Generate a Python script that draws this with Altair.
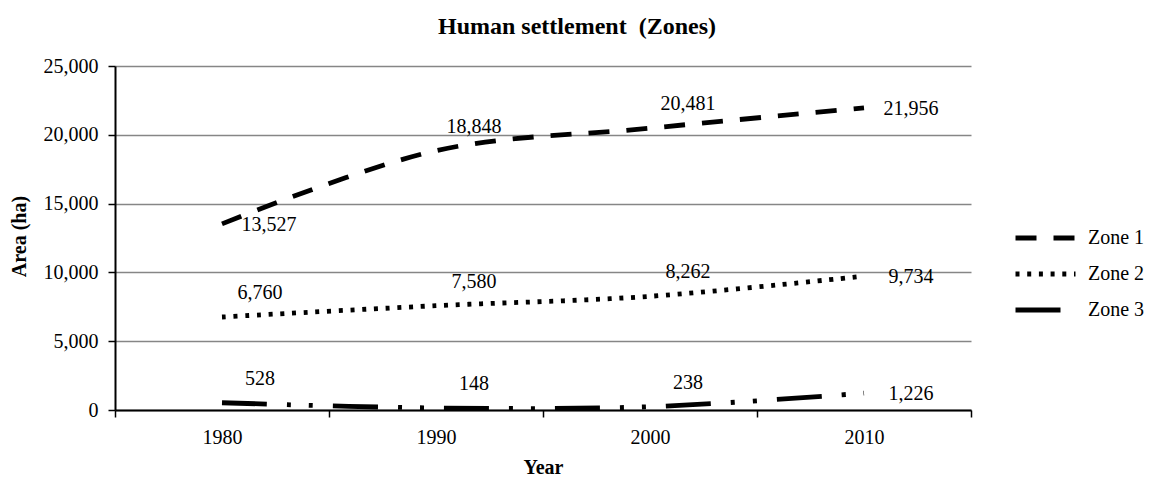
import altair as alt
import pandas as pd

years = ["1980", "1990", "2000", "2010"]
zones = ["Zone 1", "Zone 2", "Zone 3"]
zone1 = [13527, 18848, 20481, 21956]
zone2 = [6760, 7580, 8262, 9734]
zone3 = [528, 148, 238, 1226]
placement = {
    "Zone 1": ["right", "above", "above", "right"],
    "Zone 2": ["above", "above", "above", "right"],
    "Zone 3": ["above", "above", "above", "right"],
}
y_ticks = [0, 5000, 10000, 15000, 20000, 25000]

rows = []
for zname, vals in zip(zones, [zone1, zone2, zone3]):
    for yr, v, p in zip(years, vals, placement[zname]):
        rows.append({"Year": yr, "Zone": zname, "Area": v, "place": p})
df = pd.DataFrame(rows)

FONT = "Liberation Serif"

x_enc = alt.X(
    "Year:O",
    sort=years,
    scale=alt.Scale(type="band", paddingInner=0, paddingOuter=0),
    axis=alt.Axis(
        title="Year", labelAngle=0, tickBand="extent",
        titleY=57, titleBaseline="middle",
    ),
)
y_enc = alt.Y(
    "Area:Q",
    scale=alt.Scale(domain=[0, 25000], nice=False),
    axis=alt.Axis(
        title="Area (ha)", values=y_ticks, format=",.0f", grid=True,
        titleX=-96, titleY=170, titleBaseline="middle", titleAlign="center",
    ),
)

lines = alt.Chart(df).mark_line(
    color="black", strokeWidth=4.8, interpolate="catmull-rom", strokeCap="butt"
).encode(
    x=x_enc,
    y=y_enc,
    strokeDash=alt.StrokeDash(
        "Zone:N",
        scale=alt.Scale(
            domain=zones,
            range=[[21, 17], [4, 7.7], [45, 20, 4, 18, 4, 20]],
        ),
        legend=alt.Legend(
            title=None, orient="none", legendX=898, legendY=160,
            symbolType="stroke", symbolSize=3600, symbolStrokeWidth=5,
            symbolStrokeColor="black", labelFont=FONT, labelFontSize=20,
            labelColor="black", clipHeight=24, rowPadding=12, labelOffset=10,
        ),
    ),
)

above = alt.Chart(df).transform_filter(alt.datum.place == "above").mark_text(
    font=FONT, fontSize=20, color="black", dx=38, dy=-24, align="center", baseline="middle"
).encode(x=x_enc, y=y_enc, text=alt.Text("Area:Q", format=",.0f"))

right = alt.Chart(df).transform_filter(alt.datum.place == "right").mark_text(
    font=FONT, fontSize=20, color="black", dx=47, dy=1, align="center", baseline="middle"
).encode(x=x_enc, y=y_enc, text=alt.Text("Area:Q", format=",.0f"))

chart = alt.layer(lines, above, right).properties(
    width=856,
    height=344,
    autosize=alt.AutoSizeParams(type="none"),
    padding={"left": 107, "top": 58, "right": 177, "bottom": 80},
    title=alt.TitleParams(
        "Human settlement \u00a0(Zones)", font=FONT, fontSize=24, fontWeight="bold",
        color="black", anchor="middle", frame="group", dx=34, offset=17,
    ),
).configure_view(stroke=None).configure_axis(
    labelFont=FONT, labelFontSize=20, labelColor="black",
    titleFont=FONT, titleFontSize=20, titleFontWeight="bold", titleColor="black",
    domainColor="black", domainWidth=2, tickColor="black", tickWidth=1.5, tickSize=7,
    gridColor="#868686", gridWidth=1.5, labelPadding=10,
).configure_axisX(grid=False, labelPadding=10)

chart.save("out.html", embed_options={"renderer": "svg", "actions": False})
